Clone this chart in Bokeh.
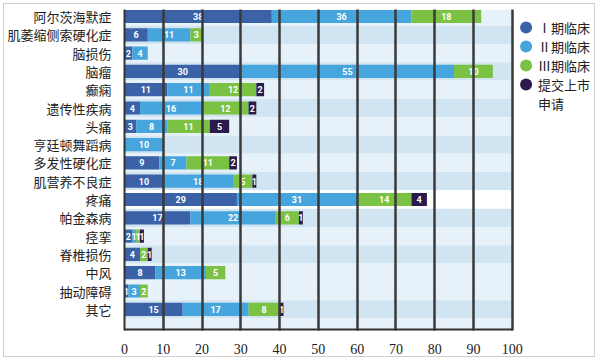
from bokeh.plotting import figure
from bokeh.models import Range1d, FixedTicker, ColumnDataSource
from bokeh.embed import file_html
from bokeh.resources import INLINE
from bokeh.core.properties import value

# ---------------- data ----------------
diseases = ["阿尔茨海默症", "肌萎缩侧索硬化症", "脑损伤", "脑瘤", "癫痫", "遗传性疾病",
            "头痛", "亨廷顿舞蹈病", "多发性硬化症", "肌营养不良症", "疼痛", "帕金森病",
            "痉挛", "脊椎损伤", "中风", "抽动障碍", "其它"]
phase1 = [38, 6, 2, 30, 11, 4, 3, 0, 9, 10, 29, 17, 2, 4, 8, 1, 15]
phase2 = [36, 11, 4, 55, 11, 16, 8, 10, 7, 18, 31, 22, 1, 0, 13, 3, 17]
phase3 = [18, 3, 0, 10, 12, 12, 11, 0, 11, 5, 14, 6, 1, 2, 5, 2, 8]
nda = [0, 0, 0, 0, 2, 2, 5, 0, 2, 1, 4, 1, 1, 1, 0, 0, 1]
series_names = ["Ⅰ期临床", "Ⅱ期临床", "Ⅲ期临床", "提交上市\n申请"]
x_ticks = [0, 10, 20, 30, 40, 50, 60, 70, 80, 90, 100]

# ---------------- layout constants (pixels) ----------------
colors = ["#3b62a6", "#45a5dc", "#7bc143", "#2b1a4c"]
CJK = "Noto Sans CJK SC"
n = len(diseases)
ys = list(range(n))

W, H = 592, 354
LEFT, TOP, BOTTOM = 116, 5, 28
frame_w = W - LEFT
frame_h = H - TOP - BOTTOM
px_per_x = 3.91            # pixels per value unit
px_per_row = 18.3          # pixels per category row
row0_off = 7.0             # first row centre below frame top
x_end = frame_w / px_per_x
y_top = -row0_off / px_per_row
y_bot = y_top + frame_h / px_per_row
xmax = x_ticks[-1]

p = figure(width=W, height=H, output_backend="svg", toolbar_location=None,
           x_range=Range1d(0, x_end), y_range=Range1d(y_bot, y_top),
           min_border_left=LEFT, min_border_right=0, min_border_top=TOP,
           min_border_bottom=BOTTOM,
           styles={"margin": "3px 0 0 3px", "border": "1px solid #cfcfcf"})
p.outline_line_color = None
p.background_fill_color = "white"
p.border_fill_color = "white"

# background stripes (only inside the 0..100 plot area)
pale, dark, white = "#e7f1f9", "#d0e4f2", "#ffffff"
band_fill = []
for i in range(n):
    if diseases[i] == "疼痛":
        band_fill.append(white)
    elif i < 15:
        band_fill.append(dark if i % 2 == 1 else pale)
    else:
        band_fill.append(pale if i % 2 == 1 else dark)
band_y = ys + [(n - 0.5 + y_bot) / 2]
band_h = [1.0] * n + [y_bot - (n - 0.5) + 0.05]
band_src = ColumnDataSource(dict(y=band_y, h=band_h, c=band_fill + [pale]))
br = p.hbar(y="y", height="h", left=0, right=xmax, fill_color="c",
            line_color=None, source=band_src)
br.level = "image"

# stacked bars
src = ColumnDataSource(dict(y=ys, p1=phase1, p2=phase2, p3=phase3, p4=nda))
p.hbar_stack(["p1", "p2", "p3", "p4"], y="y", height=0.72, color=colors,
             line_color=None, source=src)

# value labels
lx, ly, lt = [], [], []
for i in range(n):
    left = 0
    for v in (phase1[i], phase2[i], phase3[i], nda[i]):
        if v > 0:
            lx.append(left + v / 2)
            ly.append(i)
            lt.append(str(v))
        left += v
p.text(x=lx, y=ly, text=lt, text_color="white", text_font=value("Roboto"),
       text_font_style="bold", text_font_size="9px", text_align="center",
       text_baseline="middle")

# grid (drawn over bars, as in reference)
p.xgrid.ticker = FixedTicker(ticks=x_ticks)
p.xgrid.grid_line_color = "#3a3a3a"
p.xgrid.grid_line_width = 2.5
p.xgrid.level = "annotation"
p.ygrid.grid_line_color = None

# bottom axis line only from 0 to 100
axis_y = y_bot - 1.0 / px_per_row
ax = p.segment(x0=[0], x1=[xmax], y0=[axis_y], y1=[axis_y],
               line_color="#333333", line_width=2)
ax.level = "overlay"

# axes
p.xaxis.ticker = FixedTicker(ticks=x_ticks)
p.xaxis.axis_line_color = None
p.xaxis.major_tick_line_color = None
p.xaxis.minor_tick_line_color = None
p.xaxis.major_label_text_font = "Liberation Serif"
p.xaxis.major_label_text_font_size = "14px"
p.xaxis.major_label_text_color = "#222222"
p.xaxis.major_label_standoff = 7

p.yaxis.ticker = FixedTicker(ticks=ys)
p.yaxis.major_label_overrides = {i: d for i, d in enumerate(diseases)}
p.yaxis.axis_line_color = "#333333"
p.yaxis.axis_line_width = 2
p.yaxis.major_tick_line_color = None
p.yaxis.minor_tick_line_color = None
p.yaxis.major_label_text_font = CJK
p.yaxis.major_label_text_font_size = "13px"
p.yaxis.major_label_text_color = "#222222"
p.yaxis.major_label_standoff = 7

# ---------------- legend (drawn in the right part of the frame) ----------------
leg_circle_x = xmax + 14 / px_per_x
leg_text_x = xmax + 26 / px_per_x
leg_pitch = 19.0 / px_per_row
leg_first = 11.0 / px_per_row
cy, tx, ty, tt = [], [], [], []
k = 0
for name in series_names:
    cy.append(leg_first + k * leg_pitch)
    for line in name.split("\n"):
        tx.append(leg_text_x)
        ty.append(leg_first + k * leg_pitch)
        tt.append(line)
        k += 1
p.scatter(x=[leg_circle_x] * len(cy), y=cy, size=12, fill_color=colors,
          line_color=None)
p.text(x=tx, y=ty, text=tt, text_font=value(CJK), text_font_size="13px",
       text_color="#222222", text_baseline="middle", text_align="left")

open("out.html", "w").write(file_html(p, INLINE))
